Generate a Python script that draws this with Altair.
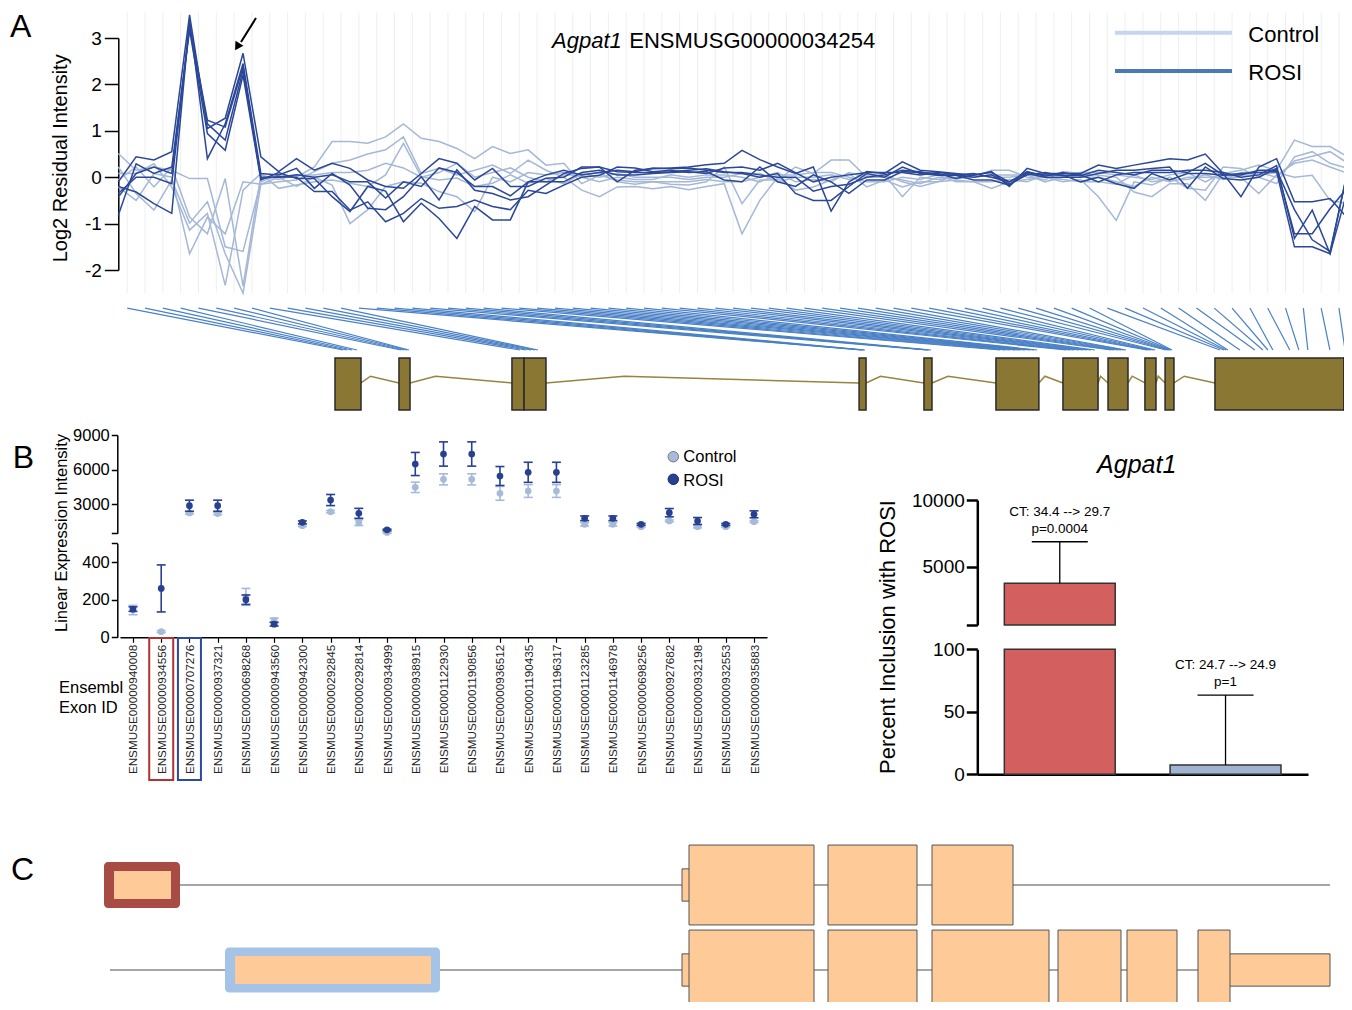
import altair as alt
import pandas as pd

FONT = "Liberation Sans"
W, H = 1336, 994

# ---------------- Panel A: probe-level log2 residual intensities ----------------
probe_index = list(range(70))

rosi_rep1 = [-0.10, 0.44, 0.37, 0.55, 3.50, 1.05, 1.27, 2.67, 0.44, 0.12,
             0.40, 0.15, 0.30, 0.19, -0.06, -0.20, -0.24, 0.08, 0.40, 0.30,
             -0.06, 0.19, -0.20, -0.20, -0.02, 0.00, 0.22, 0.22, -0.10, 0.15,
             0.18, 0.20, 0.22, 0.27, 0.30, 0.58, 0.38, 0.22, 0.08, 0.22,
             -0.73, -0.10, 0.12, 0.08, 0.33, 0.15, 0.12, 0.08, 0.04, 0.12,
             -0.20, 0.19, 0.08, 0.08, 0.08, 0.26, 0.19, 0.26, 0.33, 0.40,
             0.37, 0.50, 0.08, -0.42, 0.22, 0.40, -0.53, -0.53, -0.46, -0.89]
rosi_rep2 = [-0.20, -0.32, -0.57, -0.78, 3.39, 0.40, 1.15, 2.45, 0.08, 0.05,
             0.19, -0.24, 0.08, -0.17, -0.67, -0.70, -0.42, 0.01, -0.49, 0.16,
             -0.28, -0.35, -0.49, -0.42, -0.17, 0.08, 0.19, 0.22, 0.12, 0.10,
             0.10, 0.12, 0.15, 0.18, 0.12, 0.08, 0.00, 0.08, -0.35, -0.50,
             -0.50, -0.20, 0.08, 0.00, 0.22, 0.08, 0.04, 0.04, -0.06, -0.06,
             -0.17, 0.08, 0.00, 0.00, 0.00, 0.08, 0.15, 0.15, 0.19, 0.22,
             -0.24, 0.22, -0.03, -0.06, 0.00, 0.19, -1.22, -1.22, -0.68, -0.21]
rosi_rep3 = [-0.43, 0.08, 0.22, 0.08, 3.25, 1.15, 0.80, 2.30, -0.02, 0.01,
             0.00, -0.31, -0.31, -0.71, -0.53, -0.96, -0.78, -0.46, -0.67, -0.63,
             -0.49, -0.63, -0.70, -0.28, -0.35, -0.17, 0.00, 0.04, 0.22, 0.20,
             0.12, 0.15, 0.10, 0.12, -0.06, -0.10, 0.22, -0.10, -0.20, 0.05,
             -0.10, -0.35, -0.06, -0.06, 0.12, 0.10, 0.08, -0.03, 0.05, 0.10,
             -0.10, 0.10, 0.05, 0.05, -0.10, 0.00, -0.14, -0.24, 0.08, -0.06,
             0.08, 0.08, 0.04, 0.08, 0.10, 0.12, -1.50, -1.50, -1.65, 0.19]
rosi_rep4 = [-0.82, 0.29, 0.08, 0.22, 3.17, 0.94, 0.58, 2.20, -0.06, 0.10,
             -0.03, -0.03, -0.42, -0.74, -0.20, -0.30, -0.96, -0.56, -0.89, -1.32,
             -0.63, -0.92, -0.92, -0.10, -0.10, -0.10, 0.10, 0.15, 0.05, 0.05,
             0.08, 0.10, 0.12, 0.08, 0.20, 0.22, 0.15, 0.30, 0.10, -0.10,
             0.00, 0.05, 0.10, 0.10, 0.10, 0.05, 0.10, 0.06, 0.00, 0.05,
             -0.15, 0.05, 0.10, 0.03, 0.05, -0.10, 0.05, 0.10, 0.10, 0.10,
             0.15, 0.15, 0.10, 0.00, 0.05, 0.25, -1.32, -0.71, -1.65, -0.25]
rosi_rep5 = [-0.35, 0.00, 0.00, -0.14, 3.28, 1.23, 1.08, 2.38, 0.00, 0.00,
             0.05, 0.00, 0.05, -0.10, -0.10, -0.45, -0.10, -0.20, 0.20, 0.10,
             -0.20, -0.20, -0.40, -0.10, 0.05, 0.15, 0.05, 0.10, 0.15, 0.12,
             0.20, 0.18, 0.20, 0.15, 0.10, 0.10, 0.05, 0.00, 0.00, -0.30,
             -0.20, -0.15, 0.00, 0.05, 0.15, 0.12, 0.05, 0.05, 0.08, 0.00,
             -0.10, 0.12, 0.02, 0.10, 0.03, 0.15, 0.10, 0.05, 0.15, 0.15,
             0.10, 0.30, 0.05, 0.05, 0.15, 0.15, -0.70, -1.35, -1.60, 0.15]

control_rep1 = [0.51, 0.15, 0.22, 0.15, -0.03, -0.03, -1.50, -1.60, -0.10, 0.05,
                0.00, 0.22, 0.77, 0.77, 0.73, 0.87, 1.15, 0.84, 0.77, 0.62,
                0.40, 0.66, 0.51, 0.59, 0.26, 0.30, -0.14, 0.04, -0.06, -0.10,
                -0.10, -0.15, -0.17, -0.10, 0.22, -0.57, -0.06, -0.06, 0.22, 0.08,
                0.37, 0.37, 0.00, 0.00, -0.06, -0.14, 0.00, -0.03, 0.00, 0.15,
                0.15, 0.00, -0.06, 0.12, 0.08, 0.04, 0.00, -0.32, -0.42, -0.14,
                -0.14, -0.50, 0.08, 0.15, 0.26, 0.15, 0.80, 0.66, 0.66, 0.44]
control_rep2 = [0.22, -0.35, -0.71, -0.06, -0.99, -0.53, -1.65, -2.50, -0.15, -0.10,
                -0.06, 0.12, 0.30, 0.37, 0.50, 0.59, 0.87, 0.08, 0.19, 0.05,
                0.15, 0.26, 0.08, 0.37, 0.15, 0.00, -0.28, -0.42, -0.21, -0.20,
                -0.25, -0.20, -0.27, -0.20, -0.14, -1.22, -0.50, 0.00, -0.28, -0.21,
                -0.06, 0.08, -0.21, -0.06, -0.21, -0.10, -0.10, -0.06, -0.10, -0.24,
                -0.10, -0.05, 0.00, -0.10, -0.05, -0.42, -0.93, -0.10, -0.17, 0.00,
                -0.24, -0.28, 0.22, 0.19, 0.00, -0.14, 0.44, 0.55, 0.30, 0.19]
control_rep3 = [0.08, 0.08, 0.29, -0.21, -1.14, -0.78, -2.33, -0.28, 0.08, -0.24,
                -0.17, -0.10, -0.06, -0.13, -0.20, 0.05, 0.73, 0.01, -0.06, -0.02,
                -0.20, -0.13, 0.05, -0.13, -0.03, -0.14, 0.08, 0.00, 0.08, 0.00,
                0.00, 0.00, -0.05, 0.00, 0.00, 0.08, 0.08, -0.10, 0.00, 0.00,
                0.05, -0.05, 0.05, 0.05, -0.42, 0.00, -0.05, 0.00, 0.05, 0.00,
                0.00, 0.05, -0.10, 0.00, 0.00, 0.00, -0.10, -0.20, 0.00, -0.10,
                0.00, 0.00, 0.00, 0.00, -0.35, 0.05, 0.30, 0.37, 0.22, 0.08]
control_rep4 = [-0.21, -0.50, 0.08, 0.00, -1.65, -0.86, -1.22, -0.10, -0.15, 0.00,
                -0.20, 0.00, -0.17, -1.00, -0.70, -0.20, -0.10, -0.13, -0.31, -0.42,
                -0.74, 0.00, -0.10, 0.10, 0.05, 0.10, 0.00, -0.10, 0.00, -0.05,
                -0.05, 0.05, 0.00, 0.05, 0.05, 0.00, -0.10, 0.05, 0.05, 0.10,
                0.10, 0.00, -0.10, -0.10, 0.00, -0.05, 0.05, -0.10, -0.10, -0.10,
                -0.05, -0.10, 0.05, 0.05, 0.10, 0.10, 0.05, 0.00, -0.05, 0.05,
                0.10, -0.10, 0.10, 0.05, 0.05, 0.10, 0.00, 0.04, -0.50, -0.57]
control_rep5 = [-0.06, 0.22, -0.21, 0.22, -0.86, -1.22, -0.03, -2.35, 0.05, -0.05,
                0.05, 0.05, 0.10, 0.10, 0.15, 0.30, 0.20, 0.00, 0.10, 0.30,
                0.00, 0.10, 0.20, 0.00, -0.10, 0.05, 0.05, 0.10, -0.10, -0.15,
                -0.10, -0.10, -0.10, -0.05, -0.10, -0.10, 0.00, 0.10, -0.10, -0.05,
                -0.10, 0.10, 0.00, 0.05, -0.10, -0.20, -0.10, 0.05, 0.00, 0.05,
                0.05, 0.05, 0.00, -0.05, -0.10, -0.10, -0.15, 0.05, -0.10, -0.05,
                -0.05, 0.05, -0.05, 0.10, 0.10, 0.00, 0.35, 0.45, 0.55, 0.30]

# gene model (positions along the probe axis)
gene_exon_start = [12.16, 15.75, 22.09, 22.77, 41.57, 45.21, 49.25, 53.01, 55.54, 57.61, 58.74, 61.54, 68.78]
gene_exon_end = [13.62, 16.37, 22.77, 24.00, 41.96, 45.66, 51.66, 54.98, 56.66, 58.23, 59.24, 68.78, 69.00]
probe_target = [12.61, 12.83, 13.11, 13.39,
                15.86, 16.03, 16.20, 16.31,
                22.54, 22.88, 23.16, 23.38, 23.55,
                41.68, 41.73, 41.85, 41.90,
                45.33, 45.44, 45.49, 45.61,
                49.48, 49.76, 50.04, 50.32, 50.60, 50.88, 51.16, 51.39, 51.56,
                53.18, 53.40, 53.63, 53.91, 54.13, 54.36, 54.58, 54.80,
                55.71, 55.88, 56.10, 56.27, 56.44, 56.55,
                57.73, 57.84, 57.95, 58.07, 58.18,
                58.79, 58.90, 58.96, 59.01, 59.07, 59.13,
                61.82, 62.04, 62.16, 62.27, 62.94, 63.78, 64.23, 64.51, 64.79,
                65.74, 66.25, 66.75, 67.99, 68.84]

# ---------------- Panel B: exon-level expression ----------------
exon_ids = ["ENSMUSE00000940008", "ENSMUSE00000934556", "ENSMUSE00000707276",
            "ENSMUSE00000937321", "ENSMUSE00000698268", "ENSMUSE00000943560",
            "ENSMUSE00000942300", "ENSMUSE00000292845", "ENSMUSE00000292814",
            "ENSMUSE00000934999", "ENSMUSE00000938915", "ENSMUSE00001122930",
            "ENSMUSE00001190856", "ENSMUSE00000936512", "ENSMUSE00001190435",
            "ENSMUSE00001196317", "ENSMUSE00001123285", "ENSMUSE00001146978",
            "ENSMUSE00000698256", "ENSMUSE00000927682", "ENSMUSE00000932198",
            "ENSMUSE00000932553", "ENSMUSE00000935883"]
control_mean = [145, 30, 2250, 2200, 215, 90, 1150, 2360, 1410, 560, 4470, 5160, 5160,
                3950, 4150, 4150, 1270, 1270, 1060, 1560, 1060, 1060, 1500]
control_sem = [25, 5, 100, 100, 45, 12, 80, 100, 250, 60, 450, 480, 480,
               600, 550, 550, 150, 150, 60, 80, 100, 60, 80]
rosi_mean = [150, 260, 2880, 2880, 200, 70, 1440, 3370, 2220, 790, 6490, 7355, 7355,
             5450, 5770, 5770, 1790, 1790, 1270, 2275, 1556, 1270, 2135]
rosi_sem = [12, 125, 480, 480, 25, 10, 120, 480, 430, 60, 1000, 1050, 1050,
            820, 870, 870, 200, 200, 80, 360, 300, 80, 300]

bar_exons = ["ENSMUSE00000934556", "ENSMUSE00000707276"]
bar_percent = [3750, 7.4]
bar_error = [3120, 56]
bar_ct_text = ["CT: 34.4 --> 29.7", "CT: 24.7 --> 24.9"]
bar_p_text = ["p=0.0004", "p=1"]

# ---------------- Panel C: transcript models (bp) ----------------
tx_row = [1, 1, 1, 1, 1, 1, 2, 2, 2, 2, 2, 2, 2, 2, 2, 2]
tx_start = [40, 140, 5820, 5890, 7280, 8320, 1250, 1350, 5820, 5890, 7280, 8320, 9580, 10270, 11250, 10980]
tx_end = [800, 710, 5950, 7140, 8170, 9130, 3400, 3310, 5950, 7140, 8170, 9490, 10210, 10770, 12300, 11300]
tx_kind = ["sel_red", "inner", "utr", "cds", "cds", "cds", "sel_blue", "inner", "utr", "cds", "cds", "cds",
           "cds", "cds", "utr", "cds"]
tx_line_row = [1, 2]
tx_line_start = [800, 100]
tx_line_end = [12300, 12300]

# ---------------- styling ----------------
CTRL_LINE = "#a5b8d6"
ROSI_LINE = "#2b4797"
CTRL_DOT = "#a6bbdb"
ROSI_DOT = "#27408f"


def sc(domain, rng, **kw):
    return alt.Scale(domain=domain, range=rng, nice=False, zero=False, **kw)


def note(text, x, y, size, align="left", baseline="alphabetic", angle=0, style="normal"):
    return alt.Chart(pd.DataFrame({"t": [text]})).mark_text(
        font=FONT, fontSize=size, align=align, baseline=baseline, angle=angle,
        fontStyle=style, color="black").encode(text="t:N", x=alt.value(x), y=alt.value(y))


def yaxis(offset, values, hide, label_size, tick, width, pad):
    expr = "'' + datum.value" if hide is None else f"datum.value == {hide} ? '' : '' + datum.value"
    return alt.Axis(orient="left", offset=offset, values=values, labelExpr=expr, title=None, grid=False,
                    domainColor="black", domainWidth=width, tickColor="black", tickWidth=width,
                    tickSize=tick, labelFont=FONT, labelFontSize=label_size, labelColor="black",
                    labelPadding=pad)


layers = []

# ======== Panel A ========
xA = sc([0, 69], [110.3, 1339.9])
yA = sc([-2, 3], [262, 30])
probe_boundary = [p + 0.5 for p in probe_index[:-1]]

layers.append(alt.Chart(pd.DataFrame({"g": probe_boundary})).mark_rule(color="#efefef", strokeWidth=1).encode(
    x=alt.X("g:Q", scale=xA, axis=None),
    y=alt.YDatum(-2.5, type="quantitative", scale=yA, axis=None),
    y2=alt.Y2Datum(3.55)))

rows = []
for name, grp, vals in [("c1", "Control", control_rep1), ("c2", "Control", control_rep2),
                        ("c3", "Control", control_rep3), ("c4", "Control", control_rep4),
                        ("c5", "Control", control_rep5), ("r1", "ROSI", rosi_rep1),
                        ("r2", "ROSI", rosi_rep2), ("r3", "ROSI", rosi_rep3),
                        ("r4", "ROSI", rosi_rep4), ("r5", "ROSI", rosi_rep5)]:
    for p, v in zip(probe_index, vals):
        rows.append({"probe": p, "value": v, "series": name, "group": grp})
lines_df = pd.DataFrame(rows)

axA = yaxis(-110.3, [-2, -1, 0, 1, 2, 3], None, 19, 14, 1.5, 3)
layers.append(alt.Chart(lines_df[lines_df.group == "Control"]).mark_line(strokeWidth=1.5, color=CTRL_LINE).encode(
    x=alt.X("probe:Q", scale=xA, axis=None),
    y=alt.Y("value:Q", scale=yA, axis=axA),
    detail="series:N"))
layers.append(alt.Chart(lines_df[lines_df.group == "ROSI"]).mark_line(strokeWidth=1.5, color=ROSI_LINE).encode(
    x=alt.X("probe:Q", scale=xA, axis=None),
    y=alt.Y("value:Q", scale=yA, axis=None),
    detail="series:N"))

# gene model
yG = sc([0, 1], [402, 350])
layers.append(alt.Chart(pd.DataFrame({"top": probe_boundary, "target": probe_target})).mark_rule(
    color="#4a80c6", strokeWidth=1.2).encode(
    x=alt.X("top:Q", scale=xA, axis=None), x2="target:Q",
    y=alt.YDatum(1.96, type="quantitative", scale=yG, axis=None), y2=alt.Y2Datum(1.154)))

intr = []
for i in range(len(gene_exon_start) - 1):
    a, b = gene_exon_end[i], gene_exon_start[i + 1]
    if b - a > 0.05:
        intr += [{"gap": i, "pos": a, "h": 0.52, "o": 0},
                 {"gap": i, "pos": a + 0.25 * (b - a), "h": 0.65, "o": 1},
                 {"gap": i, "pos": b, "h": 0.52, "o": 2}]
layers.append(alt.Chart(pd.DataFrame(intr)).mark_line(color="#97843f", strokeWidth=1.5).encode(
    x=alt.X("pos:Q", scale=xA, axis=None), y=alt.Y("h:Q", scale=yG, axis=None),
    detail="gap:N", order="o:Q"))
layers.append(alt.Chart(pd.DataFrame({"s": gene_exon_start, "e": gene_exon_end})).mark_rect(
    fill="#8b7734", stroke="#2a2a2a", strokeWidth=1.5).encode(
    x=alt.X("s:Q", scale=xA, axis=None), x2="e:Q",
    y=alt.YDatum(0, type="quantitative", scale=yG, axis=None), y2=alt.Y2Datum(1)))

# title, legend, arrow, labels
layers.append(note("A", 2, 29, 32))
layers.append(note("Agpat1", 544, 39.7, 22, style="italic"))
layers.append(note("ENSMUSG00000034254", 621.3, 39.7, 22))
layers.append(note("Log2 Residual Intensity", 59, 150.3, 20, align="center", angle=270))
dummy = pd.DataFrame({"k": [0]})
layers.append(alt.Chart(dummy).mark_rule(color="#c6d6ee", strokeWidth=4).encode(
    x=alt.value(1107), x2=alt.value(1224), y=alt.value(24.7)))
layers.append(alt.Chart(dummy).mark_rule(color="#4b79b5", strokeWidth=4).encode(
    x=alt.value(1107), x2=alt.value(1224), y=alt.value(63)))
layers.append(note("Control", 1240.3, 33.7, 22))
layers.append(note("ROSI", 1240.3, 72, 22))
layers.append(alt.Chart(dummy).mark_rule(color="black", strokeWidth=2).encode(
    x=alt.value(248), y=alt.value(10), x2=alt.value(233), y2=alt.value(34)))
layers.append(alt.Chart(dummy).mark_point(shape="triangle", filled=True, size=90, angle=212, color="black",
                                          opacity=1).encode(x=alt.value(230), y=alt.value(37.5)))

# ======== Panel B left: exon expression (broken axis) ========
xB = alt.Scale(type="point", domain=exon_ids, range=[112, 759], padding=0.46)
yBU = sc([500, 9000], [525.2, 427])
yBL = sc([0, 500], [629.3, 535.3])

drows = []
for grp, means, sems in [("Control", control_mean, control_sem), ("ROSI", rosi_mean, rosi_sem)]:
    for ex, m, s in zip(exon_ids, means, sems):
        drows.append({"exon": ex, "group": grp, "mean": m, "lo": m - s, "hi": m + s,
                      "seg": "upper" if m >= 500 else "lower"})
dot_df = pd.DataFrame(drows)

axBU = yaxis(-109.3, [500, 3000, 6000, 9000], 500, 16.5, 6, 1.5, 2)
axBL = yaxis(-109.3, [0, 200, 400, 500], 500, 16.5, 6, 1.5, 2)
axBX = alt.Axis(orient="bottom", offset=-(H - 629.3), labelAngle=-90, labelFont=FONT, labelFontSize=11.7,
                labelColor="#222222", tickSize=5, tickColor="black", tickWidth=1.2, domainColor="black",
                domainWidth=1.5, labelPadding=2, title=None, grid=False, labelOverlap=False, labelLimit=300)

for seg, ysc, yax in [("upper", yBU, axBU), ("lower", yBL, axBL)]:
    for grp, colr in [("Control", CTRL_DOT), ("ROSI", ROSI_DOT)]:
        sub = dot_df[(dot_df.seg == seg) & (dot_df.group == grp)]
        xax = axBX if (seg == "lower" and grp == "Control") else None
        layers.append(alt.Chart(sub).mark_rule(color=colr, strokeWidth=1.6).encode(
            x=alt.X("exon:N", scale=xB, axis=xax),
            y=alt.Y("lo:Q", scale=ysc, axis=yax if grp == "Control" else None), y2="hi:Q"))
        for col in ["lo", "hi"]:
            layers.append(alt.Chart(sub).mark_tick(color=colr, size=9, thickness=1.6, opacity=1).encode(
                x=alt.X("exon:N", scale=xB, axis=None),
                y=alt.Y(f"{col}:Q", scale=ysc, axis=None)))
        layers.append(alt.Chart(sub).mark_circle(color=colr, size=45, opacity=1).encode(
            x=alt.X("exon:N", scale=xB, axis=None),
            y=alt.Y("mean:Q", scale=ysc, axis=None)))

# highlight boxes around the two exon labels
layers.append(alt.Chart(pd.DataFrame({"exon": [exon_ids[1]]})).mark_bar(
    width=24, fillOpacity=0, stroke="#b23232", strokeWidth=2).encode(
    x=alt.X("exon:N", scale=xB, axis=None), y=alt.value(630), y2=alt.value(772)))
layers.append(alt.Chart(pd.DataFrame({"exon": [exon_ids[2]]})).mark_bar(
    width=23, fillOpacity=0, stroke="#2b4aa0", strokeWidth=2).encode(
    x=alt.X("exon:N", scale=xB, axis=None), y=alt.value(630), y2=alt.value(772)))

layers.append(note("B", 4.7, 460.3, 32))
layers.append(note("Linear Expression Intensity", 59, 525, 16.5, align="center", angle=270))
layers.append(note("Ensembl", 51, 685, 16.5))
layers.append(note("Exon ID", 51, 705.3, 16.5))
layers.append(alt.Chart(dummy).mark_circle(size=110, color=CTRL_DOT, stroke="#777777", strokeWidth=1,
                                           opacity=1).encode(x=alt.value(665.3), y=alt.value(448.7)))
layers.append(alt.Chart(dummy).mark_circle(size=110, color=ROSI_DOT, stroke="#1b2a66", strokeWidth=1,
                                           opacity=1).encode(x=alt.value(665.3), y=alt.value(471.3)))
layers.append(note("Control", 675.3, 454.3, 16.5))
layers.append(note("ROSI", 675.3, 478, 16.5))

# ======== Panel B right: percent inclusion bars (broken axis) ========
xR = alt.Scale(type="band", domain=bar_exons, range=[969.3, 1300], paddingInner=0.331, paddingOuter=0.163)
yRU = sc([625, 10000], [617, 492])
yRL = sc([0, 100], [766.3, 641.3])
bar_df = pd.DataFrame({"exon": bar_exons, "pct": bar_percent, "err": bar_error,
                       "ct": bar_ct_text, "p": bar_p_text})
bar_df["top"] = bar_df["pct"] + bar_df["err"]
bar_df["pct_low"] = bar_df["pct"].clip(upper=100)
bar_fill = {bar_exons[0]: "#d35f5f", bar_exons[1]: "#a0b4d2"}

axRU = yaxis(-969.3, [625, 5000, 10000], 625, 19, 11, 2.5, 2)
axRL = yaxis(-969.3, [0, 50, 100], None, 19, 11, 2.5, 2)
axRX = alt.Axis(orient="bottom", offset=-(H - 766.3), domainColor="black", domainWidth=2.5,
                ticks=False, labels=False, title=None, grid=False)

up = bar_df[bar_df.pct > 625]
low = bar_df[bar_df.pct <= 625]
for _, r in up.iterrows():
    layers.append(alt.Chart(up[up.exon == r.exon]).mark_bar(
        stroke="#333333", strokeWidth=1.5, fill=bar_fill[r.exon]).encode(
        x=alt.X("exon:N", scale=xR, axis=None), y=alt.Y("pct:Q", scale=yRU, axis=axRU),
        y2=alt.Y2Datum(625)))
for i, r in bar_df.iterrows():
    layers.append(alt.Chart(bar_df[bar_df.exon == r.exon]).mark_bar(
        stroke="#333333", strokeWidth=1.5, fill=bar_fill[r.exon]).encode(
        x=alt.X("exon:N", scale=xR, axis=axRX if i == 0 else None),
        y=alt.Y("pct_low:Q", scale=yRL, axis=axRL if i == 0 else None),
        y2=alt.Y2Datum(0)))
for sub, ysc in [(up, yRU), (low, yRL)]:
    layers.append(alt.Chart(sub).mark_rule(color="black", strokeWidth=1.3).encode(
        x=alt.X("exon:N", scale=xR, axis=None), y=alt.Y("pct:Q", scale=ysc, axis=None), y2="top:Q"))
    layers.append(alt.Chart(sub).mark_tick(color="black", size=56, thickness=1.3, opacity=1).encode(
        x=alt.X("exon:N", scale=xR, axis=None), y=alt.Y("top:Q", scale=ysc, axis=None)))
    layers.append(alt.Chart(sub).mark_text(font=FONT, fontSize=13.5, dy=-26, baseline="alphabetic",
                                           color="black").encode(
        x=alt.X("exon:N", scale=xR, axis=None), y=alt.Y("top:Q", scale=ysc, axis=None), text="ct:N"))
    layers.append(alt.Chart(sub).mark_text(font=FONT, fontSize=13.5, dy=-9, baseline="alphabetic",
                                           color="black").encode(
        x=alt.X("exon:N", scale=xR, axis=None), y=alt.Y("top:Q", scale=ysc, axis=None), text="p:N"))

layers.append(note("Agpat1", 1128.7, 465.3, 25, align="center", style="italic"))
layers.append(note("Percent Inclusion with ROSI", 887, 629, 22, align="center", angle=270))

# ======== Panel C: transcripts ========
xC = sc([0, 12440], [92, 1336])
yC = sc([0, 3], [792, 1047])
half = {"cds": 0.47, "utr": 0.19, "sel_red": 0.27, "sel_blue": 0.265, "inner": 0.165}
tx_df = pd.DataFrame({"row": tx_row, "s": tx_start, "e": tx_end, "kind": tx_kind})
tx_df["y0"] = tx_df["row"] - tx_df["kind"].map(half)
tx_df["y1"] = tx_df["row"] + tx_df["kind"].map(half)

layers.append(alt.Chart(pd.DataFrame({"row": tx_line_row, "s": tx_line_start, "e": tx_line_end})).mark_rule(
    color="#888888", strokeWidth=1.6).encode(
    x=alt.X("s:Q", scale=xC, axis=None), x2="e:Q", y=alt.Y("row:Q", scale=yC, axis=None)))

for kind, fillc in [("sel_red", "#a94b45"), ("sel_blue", "#a5c3e7")]:
    layers.append(alt.Chart(tx_df[tx_df.kind == kind]).mark_rect(cornerRadius=4, fill=fillc).encode(
        x=alt.X("s:Q", scale=xC, axis=None), x2="e:Q",
        y=alt.Y("y0:Q", scale=yC, axis=None), y2="y1:Q"))
for kind, stroke in [("inner", None), ("utr", "#555555"), ("cds", "#555555")]:
    sub = tx_df[tx_df.kind == kind]
    mk = alt.Chart(sub).mark_rect(fill="#fdca98", stroke=stroke, strokeWidth=1) if stroke else \
        alt.Chart(sub).mark_rect(fill="#fdca98")
    layers.append(mk.encode(
        x=alt.X("s:Q", scale=xC, axis=None), x2="e:Q",
        y=alt.Y("y0:Q", scale=yC, axis=None), y2="y1:Q"))

layers.append(note("C", 3, 872, 32))

chart = alt.layer(*layers).resolve_scale(x="independent", y="independent").properties(
    width=W, height=H, autosize=alt.AutoSizeParams(type="none"), padding=0
).configure(background="white", font=FONT).configure_view(stroke=None)

chart.save("out.html", embed_options={"renderer": "svg", "actions": False})
